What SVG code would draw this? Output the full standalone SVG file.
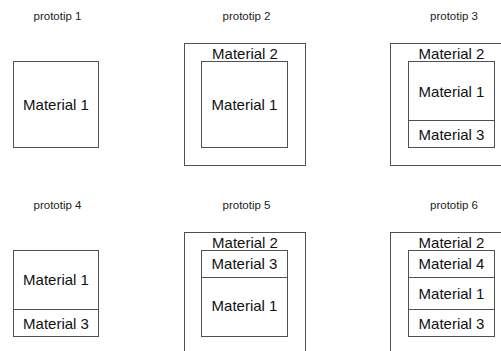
<svg xmlns="http://www.w3.org/2000/svg" width="501" height="351" viewBox="0 0 501 351">
<style>
.box{fill:none;stroke:#505050;stroke-width:1}
.line{stroke:#505050;stroke-width:1}
.lbl{font-family:"Liberation Sans",Arial,sans-serif;font-size:11.5px;fill:#222;text-anchor:middle}
.mat{font-family:"Liberation Sans",Arial,sans-serif;font-size:15px;fill:#111;text-anchor:middle}
</style>
<rect width="501" height="351" fill="#fff"/>
<g id="prototip1">
<text class="lbl" x="57.5" y="20">prototip 1</text>
<rect class="box" x="13.5" y="61.5" width="85" height="86"/>
<text class="mat" x="56" y="110">Material 1</text>
</g>
<g id="prototip2">
<text class="lbl" x="246.5" y="20">prototip 2</text>
<rect class="box" x="184.5" y="43.5" width="121" height="122"/>
<text class="mat" x="245" y="58.5">Material 2</text>
<rect class="box" x="201.5" y="61.5" width="86" height="86"/>
<text class="mat" x="244.5" y="110">Material 1</text>
</g>
<g id="prototip3">
<text class="lbl" x="454" y="20">prototip 3</text>
<rect class="box" x="390.5" y="43.5" width="121" height="122"/>
<text class="mat" x="451.5" y="58.5">Material 2</text>
<rect class="box" x="408.5" y="61.5" width="86" height="86"/>
<line class="line" x1="408.5" y1="120.5" x2="494.5" y2="120.5"/>
<text class="mat" x="451.5" y="96.5">Material 1</text>
<text class="mat" x="451.5" y="139.5">Material 3</text>
</g>
<g id="prototip4">
<text class="lbl" x="57.5" y="208.5">prototip 4</text>
<rect class="box" x="13.5" y="250.5" width="85" height="86"/>
<line class="line" x1="13.5" y1="309.5" x2="98.5" y2="309.5"/>
<text class="mat" x="56" y="285">Material 1</text>
<text class="mat" x="56" y="328.5">Material 3</text>
</g>
<g id="prototip5">
<text class="lbl" x="246.5" y="208.5">prototip 5</text>
<rect class="box" x="184.5" y="232.5" width="121" height="122"/>
<text class="mat" x="245" y="248">Material 2</text>
<rect class="box" x="201.5" y="250.5" width="86" height="86"/>
<line class="line" x1="201.5" y1="277.5" x2="287.5" y2="277.5"/>
<text class="mat" x="244.5" y="269">Material 3</text>
<text class="mat" x="244.5" y="311">Material 1</text>
</g>
<g id="prototip6">
<text class="lbl" x="454" y="208.5">prototip 6</text>
<rect class="box" x="390.5" y="232.5" width="121" height="122"/>
<text class="mat" x="451.5" y="248">Material 2</text>
<rect class="box" x="408.5" y="250.5" width="86" height="86"/>
<line class="line" x1="408.5" y1="277.5" x2="494.5" y2="277.5"/>
<line class="line" x1="408.5" y1="309.5" x2="494.5" y2="309.5"/>
<text class="mat" x="451.5" y="269">Material 4</text>
<text class="mat" x="451.5" y="298.5">Material 1</text>
<text class="mat" x="451.5" y="328.5">Material 3</text>
</g>
<g id="connectors"/>
</svg>
